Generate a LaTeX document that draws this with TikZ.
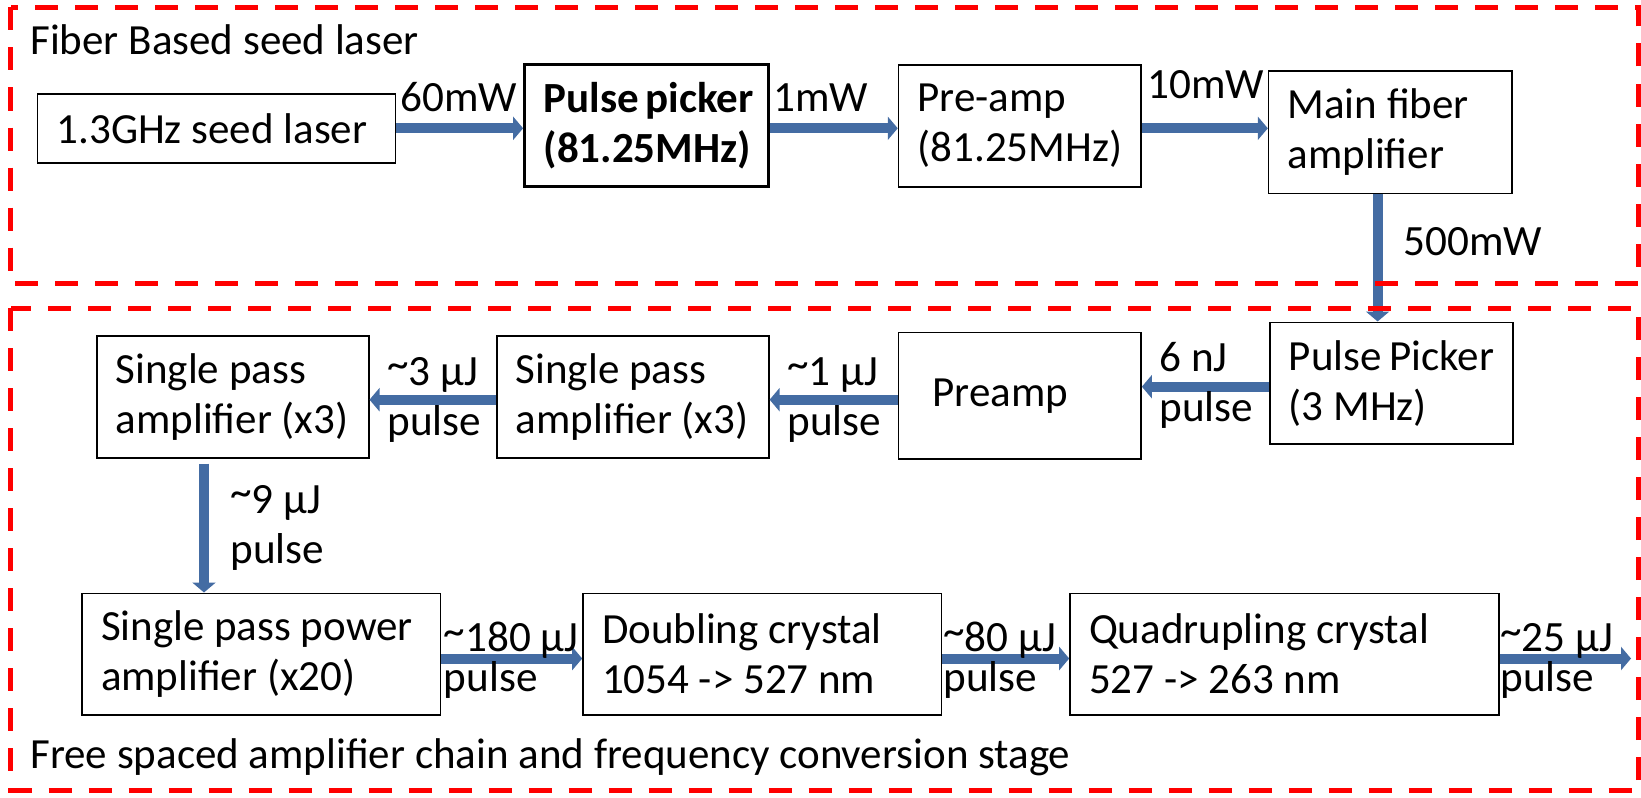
\documentclass[tikz,border=0pt]{standalone}
\usepackage{fontspec}
\setmainfont{Carlito}
\usetikzlibrary{arrows.meta}
\definecolor{beamblue}{HTML}{446CA3}
\definecolor{stagered}{HTML}{FF0000}
\newcommand{\approxsym}{\raisebox{0.15em}{\textasciitilde}}
\begin{document}
\begin{tikzpicture}[x=0.5pt, y=-0.5pt, line join=miter,
		box/.style={draw, line width=0.8pt, align=flush left, inner xsep=9.5pt, inner ysep=0pt, font=\fontsize{21.5pt}{25pt}\selectfont},
		lbl/.style={inner sep=0pt, align=flush left, font=\fontsize{21.6pt}{25pt}\selectfont},
		tightlbl/.style={lbl, font=\fontsize{21.6pt}{20pt}\selectfont},
		title/.style={inner sep=0pt, font=\fontsize{21.5pt}{25pt}\selectfont},
		beam/.style={line width=5pt, draw=beamblue, -{Triangle[length=5pt,width=11.5pt]}},
		stage/.style={draw=stagered, line width=2.5pt, dash pattern=on 11.5pt off 8.5pt}]
			\useasboundingbox (0,0) rectangle (1641,797);
			\node[box, text width=159.9pt, minimum height=34.4pt] (seed) at (216.5,128.3) {1.3GHz seed laser};
			\node[box, line width=1.5pt, font=\fontsize{21.5pt}{25pt}\selectfont\bfseries, text width=103.1pt, minimum height=60.9pt] (pp) at (646.7,125.2) {Pulse~picker\\(81.25MHz)};
			\node[box, text width=102.25pt, minimum height=60.9pt] (pre1) at (1019.8,125.8) {Pre-amp\\(81.25MHz)};
			\node[box, text width=102.7pt, minimum height=61pt] (main) at (1390.3,132.3) {Main fiber\\amplifier};
			\node[box, text width=102.6pt, minimum height=60.9pt] (pp2) at (1391.4,383.2) {Pulse~Picker\\(3 MHz)};
			\node[box, text width=102.25pt, minimum height=63.4pt] (pre2) at (1019.8,395.7) {\hspace*{7.5pt}\raisebox{2.5pt}{Preamp}};
			\node[box, text width=117pt, minimum height=60.9pt] (sp1) at (632.8,396.8) {Single pass\\amplifier~(x3)};
			\node[box, text width=117pt, minimum height=60.9pt] (sp2) at (232.7,396.8) {Single pass\\amplifier~(x3)};
			\node[box, text width=160.2pt, minimum height=60.9pt] (power) at (261.2,654.2) {Single~pass~power\\amplifier (x20)};
			\node[box, text width=160.2pt, minimum height=60.9pt] (dbl) at (762.2,654.2) {Doubling crystal\\1054 -> 527 nm};
			\node[box, text width=195.5pt, minimum height=60.9pt] (quad) at (1284.5,654.2) {Quadrupling crystal\\527 -> 263 nm};
			\coordinate (out) at (1631,658.5);
			\draw[beam] (seed.east) -- (seed.east -| pp.west);
			\draw[beam] (pp.east |- seed.east) -- (pre1.west |- seed.east);
			\draw[beam] (pre1.east |- seed.east) -- (main.west |- seed.east);
			\draw[beam] ([xshift=-6.35pt]main.south) -- ([xshift=-6.35pt]main.south |- pp2.north);
			\draw[beam] ([yshift=-1.75pt]pp2.west) -- ([yshift=-1.75pt]pp2.west -| pre2.east);
			\draw[beam] ([yshift=-2pt]pre2.west) -- ([yshift=-2pt]pre2.west -| sp1.east);
			\draw[beam] ([yshift=-2pt]pre2.west -| sp1.west) -- ([yshift=-2pt]pre2.west -| sp2.east);
			\draw[beam, shorten <=2.5pt] ([xshift=-14.35pt]sp2.south) -- ([xshift=-14.35pt]sp2.south |- power.north);
			\draw[beam] ([yshift=-2.15pt]power.east) -- ([yshift=-2.15pt]power.east -| dbl.west);
			\draw[beam] ([yshift=-2.15pt]dbl.east) -- ([yshift=-2.15pt]dbl.east -| quad.west);
			\draw[beam] (quad.east |- out) -- (out);
			\node[lbl, anchor=base west] (l60) at (400,111.7) {60mW};
			\node[lbl, anchor=base west] (l1) at (773,111.7) {1mW};
			\node[lbl, anchor=base west] (l10) at (1147,98.3) {10mW};
			\node[lbl, anchor=base west] (l500) at (1403,255) {500mW};
			\node[lbl, anchor=base west] (l6n) at (1159,421.7) {6 nJ\\pulse};
			\node[lbl, anchor=base west] (l1u) at (787,435) {\approxsym1 µJ\\pulse};
			\node[lbl, anchor=base west] (l3u) at (387,435) {\approxsym3 µJ\\pulse};
			\node[lbl, anchor=base west] (l9u) at (230,563) {\approxsym9 µJ\\pulse};
			\node[tightlbl, anchor=base west] (l180) at (443.5,691.7) {\approxsym180 µJ\\pulse};
			\node[tightlbl, anchor=base west] (l80) at (943,691.7) {\approxsym80 µJ\\pulse};
			\node[tightlbl, anchor=base west] (l25) at (1500,691.7) {\approxsym25 µJ\\pulse};
			\node[title, anchor=base west] (fibertitle) at (30,55) {Fiber Based seed laser};
			\node[title, anchor=base west] (freetitle) at (30,768) {Free spaced amplifier chain and frequency conversion stage};
			\draw[stage] (10.5,7.5) rectangle (1638.5,283);
			\draw[stage] (10.5,308) rectangle (1638.5,790);
		\end{tikzpicture}
\end{document}
